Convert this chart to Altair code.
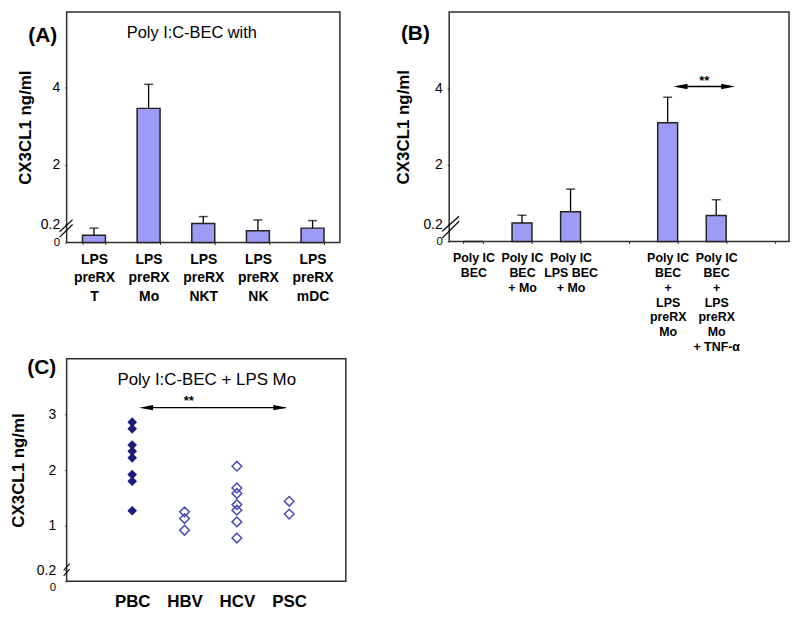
import altair as alt
import pandas as pd

FONT = "Liberation Sans"
BAR_FILL = "#9d9cf4"
FRAME = "#2e2e2e"

# ---------------- data ----------------
# Panel A
a_cats = ["LPS\npreRX\nT", "LPS\npreRX\nMo", "LPS\npreRX\nNKT", "LPS\npreRX\nNK", "LPS\npreRX\nmDC"]
a_vals = [0.08, 3.46, 0.23, 0.13, 0.16]
a_errs = [0.16, 4.08, 0.44, 0.34, 0.32]

# Panel B
b_cats = ["Poly IC\nBEC", "Poly IC\nBEC\n+  Mo", "Poly IC\nLPS BEC\n+ Mo",
          "Poly IC\nBEC\n+\nLPS\npreRX\nMo", "Poly IC\nBEC\n+\nLPS\npreRX\nMo\n+ TNF-\u03b1"]
b_vals = [0.0, 0.25, 0.59, 3.10, 0.47]
b_errs = [None, 0.48, 1.27, 3.77, 0.95]
b_domain = [b_cats[0], b_cats[1], b_cats[2], "gap", b_cats[3], b_cats[4], "end"]

# Panel C
c_groups = ["PBC"] * 8 + ["HBV"] * 3 + ["HCV"] * 7 + ["PSC"] * 2
c_vals = [2.86, 2.74, 2.45, 2.34, 2.22, 1.92, 1.80, 1.27,
          1.25, 1.13, 0.92,
          2.07, 1.68, 1.58, 1.38, 1.28, 1.07, 0.78,
          1.44, 1.21]
c_order = ["PBC", "HBV", "HCV", "PSC"]

ARROW_R = "M1,0 L-1,-0.38 L-1,0.38 Z"
ARROW_L = "M-1,0 L1,-0.38 L1,0.38 Z"


def one(**kw):
    return pd.DataFrame({k: [v] for k, v in kw.items()})


def y_axis(values, title_pad, label_pad, zero_top=False):
    extra = {}
    if zero_top:
        extra["labelBaseline"] = {"condition": {"test": "datum.value == 0", "value": "top"}, "value": "middle"}
    return alt.Axis(
        values=values, format="~g", title="CX3CL1 ng/ml", titleFont=FONT, titleFontSize=17,
        titleFontWeight="bold", titleColor="black", titlePadding=title_pad,
        labelFont=FONT, labelColor="black", labelPadding=label_pad,
        labelFontSize={"condition": {"test": "datum.value == 0", "value": 11.5}, "value": 14},
        labelOverlap=False, labelFlush=False,
        tickSize=2, tickColor=FRAME, domain=False, grid=False, **extra)


def x_band_axis(font_size, line_height, pad, expr):
    return alt.Axis(
        title=None, labelAngle=0, labelExpr=expr, labelFont=FONT,
        labelFontSize=font_size, labelFontWeight="bold", labelColor="black",
        labelLineHeight=line_height, labelPadding=pad, labelBaseline="top",
        domain=False, grid=False, tickBand="extent", tickSize=2, tickColor=FRAME)


# ---------------- Panel A ----------------
dfA = pd.DataFrame({"cat": a_cats, "val": a_vals, "err": a_errs})
scaleA = alt.Scale(domain=[0, 0.2, 2, 5.95], range=[232, 214, 154, 0], nice=False, zero=False)
xA = alt.X("cat:N", sort=a_cats, scale=alt.Scale(paddingInner=0.58, paddingOuter=0.29),
           axis=x_band_axis(14, 18.5, 8, "split(datum.label, '\\n')"))

barsA = alt.Chart(dfA).mark_bar(fill=BAR_FILL, stroke="#222", strokeWidth=1.5).encode(
    x=xA, y=alt.Y("val:Q", scale=scaleA, axis=y_axis([0, 0.2, 2, 4], 6, 5)))
errA = alt.Chart(dfA).mark_rule(color="black", strokeWidth=1.3).encode(
    x=alt.X("cat:N", sort=a_cats), y="val:Q", y2="err:Q")
capA = alt.Chart(dfA).mark_tick(color="black", size=9, thickness=1.5).encode(
    x=alt.X("cat:N", sort=a_cats), y="err:Q")
labA = alt.Chart(one(t="(A)")).mark_text(font=FONT, fontSize=21, fontWeight="bold", color="black").encode(
    text="t:N", x=alt.value(-24), y=alt.value(24))
ttlA = alt.Chart(one(t="Poly I:C-BEC with")).mark_text(font=FONT, fontSize=16.5, color="black").encode(
    text="t:N", x=alt.value(126), y=alt.value(21))
brkA = [alt.Chart(one(a=lo, b=hi)).mark_rule(color="black", strokeWidth=1.2).encode(
    x=alt.value(-7), x2=alt.value(6), y="a:Q", y2="b:Q") for lo, hi in [(0.12, 0.35), (0.06, 0.2)]]

panelA = alt.layer(barsA, errA, capA, labA, ttlA, *brkA).properties(width=275, height=232)

# ---------------- Panel B ----------------
dfB = pd.DataFrame({"cat": b_cats, "val": b_vals, "err": b_errs})
scaleB = alt.Scale(domain=[0, 0.2, 2, 6], range=[231, 214, 154, 0], nice=False, zero=False)
exprB = "(datum.label == 'gap' || datum.label == 'end') ? '' : split(datum.label, '\\n')"
xB = alt.X("cat:N", sort=b_domain, scale=alt.Scale(domain=b_domain, paddingInner=0.59, paddingOuter=0.295),
           axis=x_band_axis(12.5, 15, 8, exprB))

barsB = alt.Chart(dfB).mark_bar(fill=BAR_FILL, stroke="#222", strokeWidth=1.5).encode(
    x=xB, y=alt.Y("val:Q", scale=scaleB, axis=y_axis([0, 0.2, 2, 4], 10, 5)))
errB = alt.Chart(dfB).transform_filter("isValid(datum.err)").mark_rule(color="black", strokeWidth=1.3).encode(
    x=alt.X("cat:N", sort=b_domain), y="val:Q", y2="err:Q")
capB = alt.Chart(dfB).transform_filter("isValid(datum.err)").mark_tick(color="black", size=9, thickness=1.5).encode(
    x=alt.X("cat:N", sort=b_domain), y="err:Q")
arrB_line = alt.Chart(one(y=4.05)).mark_rule(color="black", strokeWidth=1.3, xOffset=10, x2Offset=14).encode(
    x=alt.datum(b_cats[3]), x2=alt.datum(b_cats[4]), y="y:Q")
arrB_l = alt.Chart(one(y=4.05)).mark_point(shape=ARROW_L, size=196, filled=True, color="black", opacity=1, xOffset=13).encode(
    x=alt.datum(b_cats[3]), y="y:Q")
arrB_r = alt.Chart(one(y=4.05)).mark_point(shape=ARROW_R, size=196, filled=True, color="black", opacity=1, xOffset=12).encode(
    x=alt.datum(b_cats[4]), y="y:Q")
starB = alt.Chart(one(y=4.2, t="**")).mark_text(font=FONT, fontSize=13, fontWeight="bold", color="black", xOffset=-12).encode(
    x=alt.datum(b_cats[4]), y="y:Q", text="t:N")
labB = alt.Chart(one(t="(B)")).mark_text(font=FONT, fontSize=21, fontWeight="bold", color="black").encode(
    text="t:N", x=alt.value(-34), y=alt.value(22))
brkB = [alt.Chart(one(a=lo, b=hi)).mark_rule(color="black", strokeWidth=1.2).encode(
    x=alt.value(-7), x2=alt.value(10), y="a:Q", y2="b:Q") for lo, hi in [(0.12, 0.45), (0.04, 0.3)]]

panelB = alt.layer(barsB, errB, capB, arrB_line, arrB_l, arrB_r, starB, labB, *brkB).properties(width=342, height=231)

# ---------------- Panel C ----------------
dfC = pd.DataFrame({"grp": c_groups, "val": c_vals})
scaleC = alt.Scale(domain=[0, 0.2, 4], range=[224, 213, 0], nice=False, zero=False)
xC = alt.X("grp:N", sort=c_order, scale=alt.Scale(type="point", range=[66, 224], padding=0),
           axis=alt.Axis(title=None, labelAngle=0, labelFont=FONT, labelFontSize=17, labelFontWeight="bold",
                         labelColor="black", labelPadding=12, ticks=False, domain=False, grid=False))
yC = alt.Y("val:Q", scale=scaleC, axis=y_axis([0, 0.2, 1, 2, 3], 9, 9, zero_top=True))

ptsPBC = alt.Chart(dfC).transform_filter("datum.grp == 'PBC'").mark_point(
    shape="diamond", size=95, filled=True, color="#1b1b7e", opacity=1).encode(x=xC, y=yC)
ptsOth = alt.Chart(dfC).transform_filter("datum.grp != 'PBC'").mark_point(
    shape="diamond", size=95, filled=False, color="#4a4ab4", strokeWidth=1.5, opacity=1).encode(
    x=alt.X("grp:N", sort=c_order), y="val:Q")
arrC_line = alt.Chart(one(y=3.12)).mark_rule(color="black", strokeWidth=1.2, xOffset=14, x2Offset=-4).encode(
    x=alt.datum("PBC"), x2=alt.datum("PSC"), y="y:Q")
arrC_l = alt.Chart(one(y=3.12)).mark_point(shape=ARROW_L, size=196, filled=True, color="black", opacity=1, xOffset=14).encode(
    x=alt.datum("PBC"), y="y:Q")
arrC_r = alt.Chart(one(y=3.12)).mark_point(shape=ARROW_R, size=196, filled=True, color="black", opacity=1, xOffset=-9).encode(
    x=alt.datum("PSC"), y="y:Q")
starC = alt.Chart(one(y=3.24, t="**")).mark_text(font=FONT, fontSize=13, fontWeight="bold", color="black", xOffset=57).encode(
    x=alt.datum("PBC"), y="y:Q", text="t:N")
ttlC = alt.Chart(one(t="Poly I:C-BEC + LPS Mo")).mark_text(font=FONT, fontSize=17, color="black").encode(
    text="t:N", x=alt.value(141), y=alt.value(21))
labC = alt.Chart(one(t="(C)")).mark_text(font=FONT, fontSize=21, fontWeight="bold", color="black").encode(
    text="t:N", x=alt.value(-25), y=alt.value(9))
brkC = [alt.Chart(one(a=lo, b=hi)).mark_rule(color="black", strokeWidth=1.1).encode(
    x=alt.value(-3), x2=alt.value(3), y="a:Q", y2="b:Q") for lo, hi in [(0.2, 0.32), (0.1, 0.22)]]

panelC = alt.layer(ptsPBC, ptsOth, arrC_line, arrC_l, arrC_r, starC, ttlC, labC, *brkC).properties(width=281, height=224)

row1 = alt.hconcat(panelA, panelB, spacing=53)
chart = alt.vconcat(row1, panelC, spacing=1).properties(
    padding={"left": 0, "top": 1, "right": 2, "bottom": 2}, background="white"
).configure_view(stroke=FRAME, strokeWidth=1.5)

chart.save("out.html", embed_options={"renderer": "svg", "actions": False})
